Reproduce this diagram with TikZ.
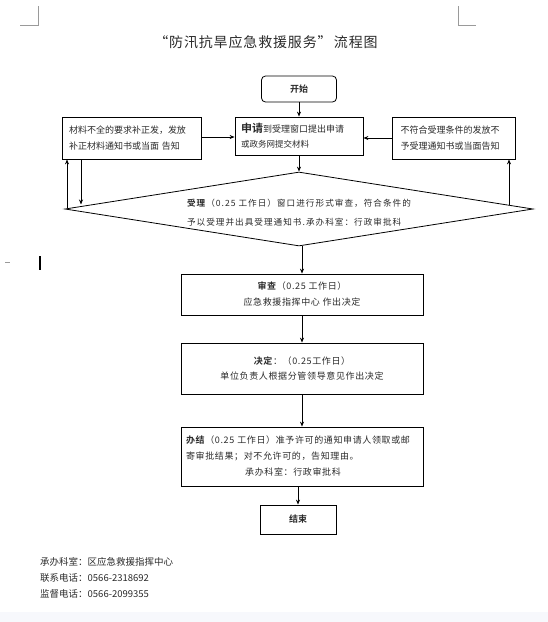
\documentclass[tikz,border=0pt]{standalone}
\usepackage{fontspec}
\setmainfont{Noto Sans CJK SC}[BoldFont={Noto Sans CJK SC Bold}]
\usetikzlibrary{shapes.geometric,arrows.meta,calc}
\definecolor{txt}{HTML}{2A2A2A}
\definecolor{markgray}{HTML}{9A9A9A}
\definecolor{band}{HTML}{F7F8FC}
\tikzset{
  arr/.style={-{Stealth[length=5pt,width=4pt]}, line width=0.8pt},
  boxx/.style={draw, line width=0.8pt, inner sep=0pt, text=txt},
  ftxt/.style={font=\fontsize{9}{16}\selectfont},
  wtxt/.style={font=\fontsize{9}{16}\selectfont\addfontfeature{LetterSpace=7}},
  cornermark/.style={draw=markgray, line width=0.6pt},
}
\begin{document}
\begin{tikzpicture}[x=1pt,y=-1pt]
\useasboundingbox (0,0) rectangle (548,622);
\fill[band] (0,612) rectangle (548,622);
% corner marks
\draw[cornermark] (38,6) -- (38,25) -- (20,25);
\draw[cornermark] (458,6) -- (458,25) -- (476,25);
% cursor artifacts
\draw[line width=1.3pt] (40,256) -- (40,270);
\draw[draw=markgray, line width=0.6pt] (5,262) -- (10,262);
% title
\node[text=txt, font=\fontsize{14}{16}\selectfont\addfontfeature{LetterSpace=6}] (title) at (266,42) {“防汛抗旱应急救援服务”\,流程图};
% start
\node[boxx, rounded corners=4pt, minimum width=75pt, minimum height=26pt, font=\fontsize{9}{16}\selectfont\bfseries] (start) at (299,89) {开始};
% application
\node[boxx, minimum width=128pt, minimum height=38pt, text width=116pt, align=left, ftxt] (sq) at (299,136)
  {{\fontsize{11}{15}\selectfont\bfseries 申请}到受理窗口提出申请\\[-1pt]{\fontsize{8.5}{15}\selectfont 或政务网提交材料}};
% left box
\node[boxx, minimum width=139pt, minimum height=42pt, text width=125pt, align=left, ftxt] (lb) at (131.5,138)
  {材料不全的要求补正发，发放\\补正材料通知书或当面 告知};
% right box
\node[boxx, minimum width=123pt, minimum height=42pt, text width=106pt, align=left, ftxt] (rb) at (453.5,138)
  {不符合受理条件的发放不\\予受理通知书或当面告知};
% diamond
\node[draw, line width=0.8pt, diamond, aspect=6.3, inner sep=0pt, minimum width=468pt, minimum height=74pt] (dia) at (299,209) {};
\node[text width=240pt, align=left, text=txt, inner sep=0pt,
      font=\fontsize{8.6}{19}\selectfont\addfontfeature{LetterSpace=12}] (diatext) at (307,212.5)
  {\textbf{受理}（0.25 工作日）窗口进行形式审查，符合条件的\\予以受理并出具受理通知书.承办科室：行政审批科};
% review
\node[boxx, minimum width=242pt, minimum height=41pt, align=center, wtxt] (sc) at (302,294.5)
  {\textbf{审查}（0.25 工作日）\\应急救援指挥中心 作出决定};
% decision
\node[boxx, minimum width=242pt, minimum height=51pt, align=center, font=\fontsize{9}{15}\selectfont\addfontfeature{LetterSpace=7}] (jd) at (302,368.5)
  {\textbf{决定}：（0.25工作日）\\单位负责人根据分管领导意见作出决定};
% handling
\node[boxx, minimum width=242pt, minimum height=59pt, text width=232pt, align=left, wtxt] (bj) at (302,456.5)
  {\textbf{办结}（0.25 工作日）准予许可的通知申请人领取或邮\\寄审批结果；对不允许可的，告知理由。\\\makebox[\linewidth][c]{承办科室：行政审批科\hspace*{18pt}}};
% end
\node[boxx, minimum width=76pt, minimum height=29pt, font=\fontsize{9}{16}\selectfont\bfseries] (js) at (298,519.5) {结束};
% footer
\node[anchor=west, text=txt, font=\fontsize{9.5}{16}\selectfont, align=left, inner sep=0pt] (foot) at (40,578)
  {承办科室：区应急救援指挥中心\\联系电话：0566-2318692\\监督电话：0566-2099355};
% connectors
\draw[arr] (start) -- (sq);
\draw[arr] (lb.east |- 0,137) -- (sq.west |- 0,137);
\draw[arr] (rb.west |- 0,138) -- (sq.east |- 0,138);
\draw[arr] (sq) -- (dia.north);
\coordinate (lup) at (67,207.5);
\coordinate (ldn) at (81,204.5);
\coordinate (rup) at (509,204.5);
\draw[arr] (lup) -- (lup |- lb.south);
\draw[arr] (ldn |- lb.south) -- (ldn);
\draw[arr] (rup) -- (rup |- rb.south);
\draw[arr] (sc.north |- dia.south) -- (sc.north);
\draw[arr] (sc) -- (jd);
\draw[arr] (jd) -- (bj);
\draw[arr] (js.north |- bj.south) -- (js.north);
\end{tikzpicture}
\end{document}
